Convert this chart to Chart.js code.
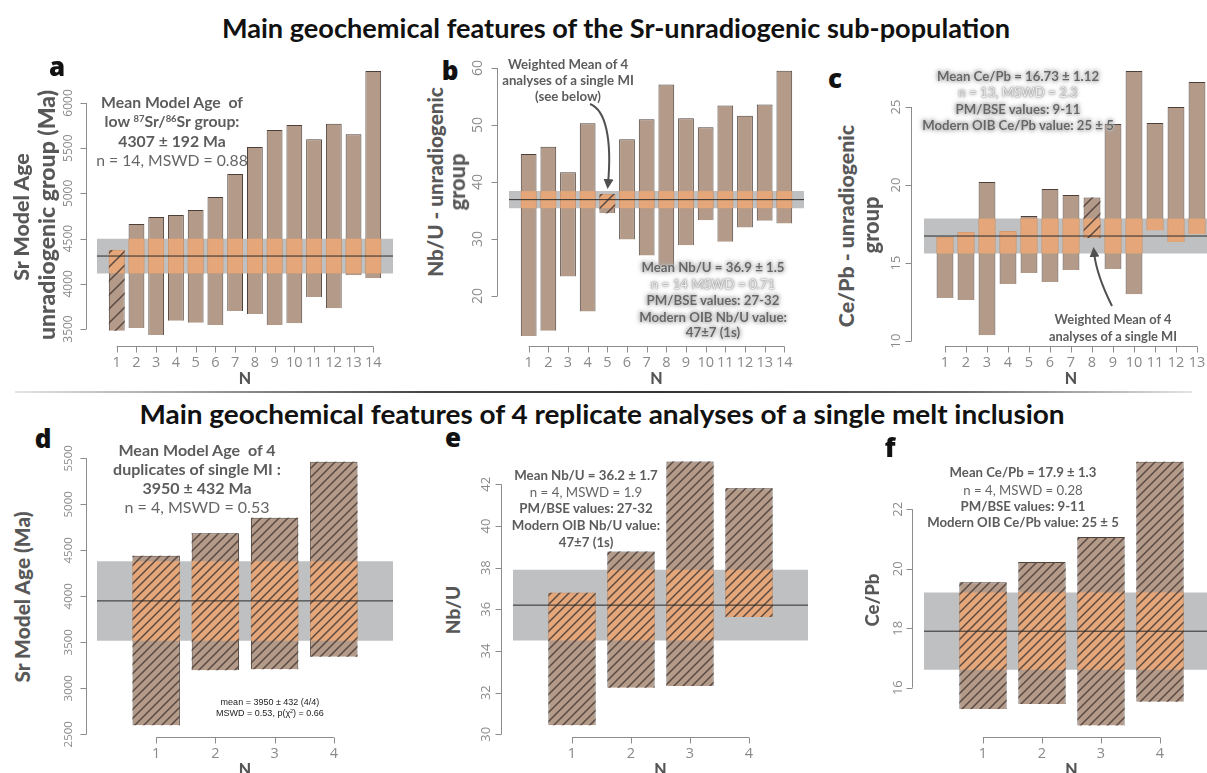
<!DOCTYPE html>
<html>
<head>
<meta charset="utf-8">
<script src="https://cdn.jsdelivr.net/npm/chart.js@4.4.0/dist/chart.umd.min.js"></script>
<style>
  body { margin: 0; width: 1207px; height: 773px; overflow: hidden; background: #fff; position: relative; font-family: Lato, "Open Sans", sans-serif; }
  canvas { position: absolute; }
  .c { position: absolute; white-space: nowrap; transform: translate(-50%, -50%); line-height: 1; }
  .r { position: absolute; white-space: nowrap; transform: translate(-50%, -50%) rotate(-90deg); line-height: 1; }
  .title { font-family: Lato, sans-serif; font-weight: 700; color: #111; font-size: 27px; }
  .letter { font-family: "Open Sans", sans-serif; font-weight: 800; font-size: 26px; color: #111; }
  .ytitle { font-weight: 900; color: #585858; font-size: 21px; }
  .b { font-weight: 700; color: #5c5c5c; font-size: 15px; }
  .n { font-weight: 400; color: #666; font-size: 15px; }
  .glow { font-weight: 700; color: #666; font-size: 15px; text-shadow: 0 0 2px #fff, 0 0 3px #8f8f8f, 0 0 5px #aaa, 0 0 6px #bbb; }
  .glow.lt { font-weight: 400; color: #ececec; text-shadow: 0 0 1px #666, 0 0 3px #999, 0 0 5px #bbb; }
  .tiny { font-family: "Liberation Sans", Arial, sans-serif; font-size: 9px; color: #222; }
  sup { font-size: 60%; vertical-align: 0.55em; }
  .rule { position: absolute; left: 15px; top: 391px; width: 1177px; height: 2px;
          background: linear-gradient(to right, #e4e4e4, #444 35%, #333 55%, #666 80%, #e4e4e4); }
  svg { position: absolute; left: 0; top: 0; pointer-events: none; }
</style>
</head>
<body>

<div class="c title" style="left:616px; top:27px" data-sx="788">Main geochemical features of the Sr-unradiogenic sub-population</div>
<div class="rule"></div>
<div class="c title" style="left:602px; top:413px" data-sx="925">Main geochemical features of 4 replicate analyses of a single melt inclusion</div>

<canvas id="pa" width="350" height="345" style="left:60px; top:50px"></canvas>
<canvas id="pb" width="350" height="345" style="left:470px; top:50px"></canvas>
<canvas id="pc" width="345" height="345" style="left:880px; top:50px"></canvas>
<canvas id="pd" width="350" height="333" style="left:60px; top:440px"></canvas>
<canvas id="pe" width="350" height="333" style="left:470px; top:440px"></canvas>
<canvas id="pf" width="345" height="333" style="left:880px; top:440px"></canvas>

<!-- panel letters -->
<div class="c letter" style="left:57px; top:66px">a</div>
<div class="c letter" style="left:450px; top:70px">b</div>
<div class="c letter" style="left:835px; top:78px">c</div>
<div class="c letter" style="left:43px; top:438px">d</div>
<div class="c letter" style="left:453px; top:437px">e</div>
<div class="c letter" style="left:890px; top:447px">f</div>

<!-- y axis titles -->
<div class="r ytitle" style="left:22px; top:217px" data-w="127">Sr Model Age</div>
<div class="r ytitle" style="left:47px; top:215px" data-w="250">unradiogenic group (Ma)</div>
<div class="r ytitle" style="left:435px; top:182px" data-w="190">Nb/U - unradiogenic</div>
<div class="r ytitle" style="left:458px; top:182px" data-w="57">group</div>
<div class="r ytitle" style="left:847px; top:226px" data-w="202">Ce/Pb - unradiogenic</div>
<div class="r ytitle" style="left:872px; top:225px" data-w="57">group</div>
<div class="r ytitle" style="left:22px; top:597px" data-w="171">Sr Model Age (Ma)</div>
<div class="r ytitle" style="left:453px; top:610px" data-w="48">Nb/U</div>
<div class="r ytitle" style="left:872px; top:600px" data-w="53">Ce/Pb</div>

<!-- a -->
<div class="c b" data-g="a" style="left:172px; top:102px" data-w="142">Mean Model Age&nbsp; of</div>
<div class="c b" data-g="a" style="left:172px; top:121px">low <sup>87</sup>Sr/<sup>86</sup>Sr group:</div>
<div class="c b" data-g="a" style="left:172px; top:141px">4307 ± 192 Ma</div>
<div class="c n" data-g="a" style="left:172px; top:160px">n = 14, MSWD = 0.88</div>

<!-- b -->
<div class="c b" data-g="b1" style="left:568px; top:65px" data-w="120">Weighted Mean of 4</div>
<div class="c b" data-g="b1" style="left:568px; top:81px">analyses of a single MI</div>
<div class="c b" data-g="b1" style="left:568px; top:97px">(see below)</div>
<div class="c glow" data-g="b2" style="left:713px; top:268px" data-w="143">Mean Nb/U = 36.9 ± 1.5</div>
<div class="c glow lt" data-g="b2" style="left:713px; top:285px">n = 14 MSWD = 0.71</div>
<div class="c glow" data-g="b2" style="left:713px; top:301px">PM/BSE values: 27-32</div>
<div class="c glow" data-g="b2" style="left:713px; top:318px">Modern OIB Nb/U value:</div>
<div class="c glow" data-g="b2" style="left:713px; top:333px">47±7 (1s)</div>

<!-- c -->
<div class="c glow" data-g="c1" style="left:1018px; top:77px">Mean Ce/Pb = 16.73 ± 1.12</div>
<div class="c glow lt" data-g="c1" style="left:1018px; top:93px">n = 13, MSWD = 2.3</div>
<div class="c glow" data-g="c1" style="left:1018px; top:110px">PM/BSE values: 9-11</div>
<div class="c glow" data-g="c1" style="left:1018px; top:126px" data-w="192">Modern OIB Ce/Pb value: 25 ± 5</div>
<div class="c b" data-g="c2" style="left:1113px; top:319px" data-w="117">Weighted Mean of 4</div>
<div class="c b" data-g="c2" style="left:1113px; top:336px">analyses of a single MI</div>

<!-- d -->
<div class="c b" data-g="d" style="left:197px; top:450px">Mean Model Age&nbsp; of 4</div>
<div class="c b" data-g="d" style="left:197px; top:469px" data-w="168">duplicates of single MI :</div>
<div class="c b" data-g="d" style="left:197px; top:488px">3950 ± 432 Ma</div>
<div class="c n" data-g="d" style="left:197px; top:507px">n = 4, MSWD = 0.53</div>
<div class="c tiny" style="left:270px; top:702px">mean = 3950 ± 432 (4/4)</div>
<div class="c tiny" style="left:270px; top:713px">MSWD = 0.53, p(χ<sup>2</sup>) = 0.66</div>

<!-- e -->
<div class="c b" data-g="e" style="left:586px; top:476px">Mean Nb/U = 36.2 ± 1.7</div>
<div class="c n" data-g="e" style="left:586px; top:493px">n = 4, MSWD = 1.9</div>
<div class="c b" data-g="e" style="left:586px; top:509px">PM/BSE values: 27-32</div>
<div class="c b" data-g="e" style="left:586px; top:526px" data-w="148">Modern OIB Nb/U value:</div>
<div class="c b" data-g="e" style="left:586px; top:543px">47±7 (1s)</div>

<!-- f -->
<div class="c b" data-g="f" style="left:1023px; top:473px">Mean Ce/Pb = 17.9 ± 1.3</div>
<div class="c n" data-g="f" style="left:1023px; top:491px">n = 4, MSWD = 0.28</div>
<div class="c b" data-g="f" style="left:1023px; top:507px">PM/BSE values: 9-11</div>
<div class="c b" data-g="f" style="left:1023px; top:523px" data-w="192">Modern OIB Ce/Pb value: 25 ± 5</div>

<svg width="1207" height="773">
  <defs>
    <marker id="head" viewBox="0 0 10 10" refX="5" refY="5" markerWidth="5" markerHeight="5" orient="auto">
      <path d="M0,0 L10,5 L0,10 z" fill="#505050"/>
    </marker>
  </defs>
  <path d="M590,104 C606,110 612,140 608,184" fill="none" stroke="#505050" stroke-width="2" marker-end="url(#head)"/>
  <path d="M1112,306 C1104,290 1096,272 1094,252" fill="none" stroke="#505050" stroke-width="2" marker-end="url(#head)"/>
</svg>

<script>
// Sr model ages of the unradiogenic group (Ma), low / high ends of each bar
const ageLo = [3480, 3510, 3434, 3590, 3570, 3545, 3700, 3665, 3545, 3565, 3854, 3730, 4095, 4065];
const ageHi = [4375, 4661, 4739, 4760, 4816, 4960, 5215, 5513, 5700, 5757, 5600, 5770, 5655, 6354];
const ageMean = 4307, ageErr = 192;
const ageTicks = [3500, 4000, 4500, 5000, 5500, 6000];

// Nb/U of the unradiogenic group
const nbuLo = [13.0, 13.9, 23.4, 17.3, 34.5, 29.9, 27.1, 25.0, 28.9, 33.3, 29.5, 32.0, 33.2, 32.7];
const nbuHi = [44.9, 46.2, 41.7, 50.3, 37.9, 47.5, 51.0, 57.1, 51.2, 49.6, 53.4, 51.6, 53.6, 59.5];
const nbuMean = 36.9, nbuErr = 1.5;
const nbuTicks = [20, 30, 40, 50, 60];

// Ce/Pb of the unradiogenic group
const cepbLo = [12.76, 12.63, 10.38, 13.65, 14.36, 13.78, 14.55, 16.6, 14.62, 13.0, 17.1, 16.35, 16.86];
const cepbHi = [16.67, 16.99, 20.19, 17.05, 18.01, 19.74, 19.36, 19.2, 23.91, 27.3, 23.97, 25.0, 26.6];
const cepbMean = 16.73, cepbErr = 1.12;
const cepbTicks = [10, 15, 20, 25];

// 4 replicate analyses of one melt inclusion
const repAgeLo = [2598, 3196, 3207, 3343];
const repAgeHi = [4441, 4685, 4854, 5463];
const repAgeMean = 3950, repAgeErr = 432;
const repAgeTicks = [2500, 3000, 3500, 4000, 4500, 5000, 5500];

const repNbuLo = [30.43, 32.24, 32.32, 35.63];
const repNbuHi = [36.8, 38.77, 43.09, 41.81];
const repNbuMean = 36.2, repNbuErr = 1.7;
const repNbuTicks = [30, 32, 34, 36, 38, 40, 42];

const repCepbLo = [15.28, 15.45, 14.73, 15.53];
const repCepbHi = [19.55, 20.23, 21.07, 23.6];
const repCepbMean = 17.9, repCepbErr = 1.3;
const repCepbTicks = [16, 18, 20, 22];

// which bars (N) are the weighted mean of the replicates
const hatchA = [1], hatchB = [5], hatchC = [8], hatchRep = [1, 2, 3, 4];

// size text to target widths; a text group shares the scale of its reference line
document.querySelectorAll('[data-w]').forEach(el => {
  const k = +el.dataset.w / el.offsetWidth;
  const group = el.dataset.g ? document.querySelectorAll('[data-g="' + el.dataset.g + '"]') : [el];
  group.forEach(g => {
    g.style.fontSize = (parseFloat(getComputedStyle(g).fontSize) * k).toFixed(2) + 'px';
  });
});
document.querySelectorAll('[data-sx]').forEach(el => {
  const k = +el.dataset.sx / el.offsetWidth;
  el.style.transform = 'translate(-50%, -50%) scaleX(' + k.toFixed(4) + ')';
});

const BAR = '#b39a89', EDGE = '#4d403a', BAND = '#bfc0c2', OVER = 'rgba(236,168,118,0.88)';

function hatchPattern(step) {
  const c = document.createElement('canvas');
  c.width = c.height = step;
  const g = c.getContext('2d');
  g.strokeStyle = '#5a4a42';
  g.lineWidth = 1.5;
  g.beginPath();
  g.moveTo(0, step); g.lineTo(step, 0);
  g.moveTo(-step / 2, step / 2); g.lineTo(step / 2, -step / 2);
  g.moveTo(step / 2, step * 1.5); g.lineTo(step * 1.5, step / 2);
  g.stroke();
  return g.createPattern(c, 'repeat');
}

// R-style detached axes: lines only span first..last tick
function axesPlugin(p) {
  return {
    id: 'rAxes',
    afterDraw(chart) {
      const { ctx, chartArea, scales: { x, y } } = chart;
      ctx.save();
      ctx.strokeStyle = '#8c8c8c';
      ctx.lineWidth = 1;
      const ax = Math.round(chartArea.left - p.yGap) + 0.5;
      const yTop = y.getPixelForValue(p.yTicks[p.yTicks.length - 1]);
      const yBot = y.getPixelForValue(p.yTicks[0]);
      ctx.beginPath();
      ctx.moveTo(ax, yTop); ctx.lineTo(ax, yBot);
      p.yTicks.forEach(v => {
        const py = Math.round(y.getPixelForValue(v)) + 0.5;
        ctx.moveTo(ax, py); ctx.lineTo(ax - 6, py);
      });
      const by = Math.round(chartArea.bottom + p.xGap) + 0.5;
      const x1 = x.getPixelForValue(1), xn = x.getPixelForValue(p.n);
      ctx.moveTo(x1, by); ctx.lineTo(xn, by);
      for (let i = 1; i <= p.n; i++) {
        const px = Math.round(x.getPixelForValue(i)) + 0.5;
        ctx.moveTo(px, by); ctx.lineTo(px, by + 6);
      }
      ctx.stroke();

      ctx.fillStyle = '#8a8a8a';
      ctx.textAlign = 'center';
      ctx.textBaseline = 'middle';
      ctx.font = p.yFont + 'px "Open Sans", sans-serif';
      p.yTicks.forEach(v => {
        ctx.save();
        ctx.translate(ax - p.yLab, y.getPixelForValue(v));
        ctx.rotate(-Math.PI / 2);
        ctx.fillText(String(v), 0, 0);
        ctx.restore();
      });
      ctx.font = '14.5px "Open Sans", sans-serif';
      for (let i = 1; i <= p.n; i++) ctx.fillText(String(i), x.getPixelForValue(i), by + 16);
      ctx.fillStyle = '#555';
      ctx.font = '900 16px Lato, sans-serif';
      ctx.fillText('N', (x1 + xn) / 2, by + 32);
      ctx.restore();
    }
  };
}

function drawPanel(id, lo, hi, mean, err, yTicks, hatched, lay) {
  const n = lo.length;
  const bandLo = mean - err, bandHi = mean + err;
  const bars = lo.map((v, i) => ({ x: i + 1, y: [v, hi[i]] }));
  const overlap = lo.map((v, i) => ({ x: i + 1, y: [Math.max(v, bandLo), Math.min(hi[i], bandHi)] }))
                    .filter(d => d.y[0] < d.y[1]);
  const hatch = hatched.map(k => ({ x: k, y: [lo[k - 1], hi[k - 1]] }));
  const box = { left: lay.area[0] - lay.box[0], top: lay.area[1] - lay.box[1],
                right: lay.box[0] + lay.box[2] - lay.area[2], bottom: lay.box[1] + lay.box[3] - lay.area[3] };
  const barOpts = { grouped: false, categoryPercentage: 1, barPercentage: 0.8 };

  new Chart(document.getElementById(id).getContext('2d'), {
    type: 'bar',
    data: {
      datasets: [
        { type: 'line', order: 0, data: [{ x: 0, y: mean }, { x: n + 1, y: mean }],
          borderColor: '#2a2a2a', borderWidth: 1, pointRadius: 0, fill: false },
        { order: 1, data: hatch, backgroundColor: hatchPattern(lay.hatch), borderWidth: 0, ...barOpts },
        { order: 2, data: overlap, backgroundColor: OVER, borderWidth: 0, ...barOpts },
        { order: 3, data: bars, backgroundColor: BAR, borderColor: EDGE, borderWidth: 1, ...barOpts },
        { type: 'line', order: 4, data: [{ x: 0, y: bandHi }, { x: n + 1, y: bandHi }],
          borderWidth: 0, pointRadius: 0, backgroundColor: BAND, fill: { value: bandLo } }
      ]
    },
    options: {
      responsive: false,
      animation: false,
      events: [],
      layout: { padding: box },
      plugins: { legend: { display: false }, tooltip: { enabled: false } },
      scales: {
        x: { type: 'linear', display: false, min: 0, max: n + 1, offset: false, ticks: { stepSize: 1 } },
        y: { type: 'linear', display: false, min: lay.yMin, max: lay.yMax, bounds: 'data' }
      }
    },
    plugins: [axesPlugin({ n, yTicks, yGap: lay.yGap, yLab: lay.yLab, yFont: lay.yFont, xGap: lay.xGap })]
  });
}

drawPanel('pa', ageLo, ageHi, ageMean, ageErr, ageTicks, hatchA,
  { box: [60, 50, 350, 345], area: [97, 62, 393, 347], yMin: 3301, yMax: 6453, yGap: 11, yLab: 18, yFont: 12, xGap: -1, hatch: 14 });
drawPanel('pb', nbuLo, nbuHi, nbuMean, nbuErr, nbuTicks, hatchB,
  { box: [470, 50, 350, 345], area: [509, 62, 804, 347], yMin: 11.05, yMax: 61.05, yGap: 12, yLab: 19, yFont: 14, xGap: -1, hatch: 12 });
drawPanel('pc', cepbLo, cepbHi, cepbMean, cepbErr, cepbTicks, hatchC,
  { box: [880, 50, 345, 345], area: [924, 62, 1218, 347], yMin: 9.62, yMax: 27.88, yGap: 13, yLab: 15, yFont: 13, xGap: -1, hatch: 12 });
drawPanel('pd', repAgeLo, repAgeHi, repAgeMean, repAgeErr, repAgeTicks, hatchRep,
  { box: [60, 440, 350, 333], area: [97, 452, 393, 737], yMin: 2470.6, yMax: 5568.5, yGap: 11, yLab: 18, yFont: 11.5, xGap: 0, hatch: 9 });
drawPanel('pe', repNbuLo, repNbuHi, repNbuMean, repNbuErr, repNbuTicks, hatchRep,
  { box: [470, 440, 350, 333], area: [513, 452, 808, 737], yMin: 29.87, yMax: 43.55, yGap: 12, yLab: 15, yFont: 13, xGap: 0, hatch: 9 });
drawPanel('pf', repCepbLo, repCepbHi, repCepbMean, repCepbErr, repCepbTicks, hatchRep,
  { box: [880, 440, 345, 333], area: [924, 452, 1219, 737], yMin: 14.34, yMax: 23.93, yGap: 12, yLab: 14.5, yFont: 13, xGap: 0, hatch: 9 });
</script>
</body>
</html>
